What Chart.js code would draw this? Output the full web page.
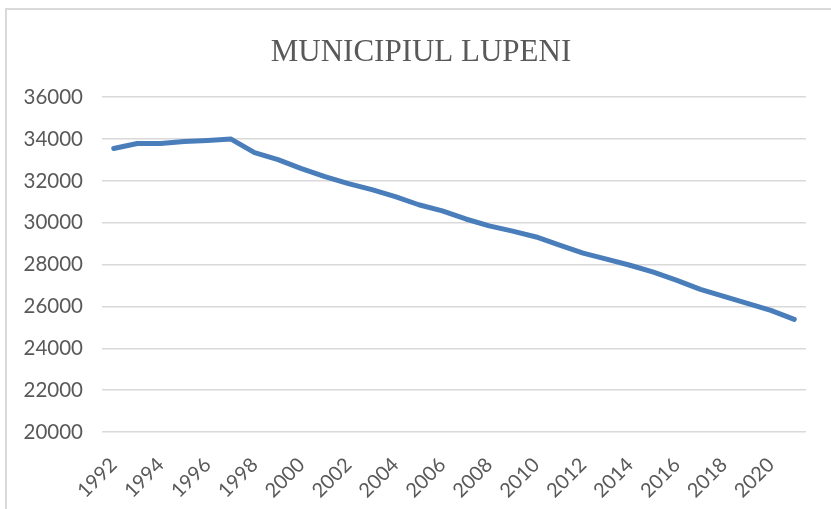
<!DOCTYPE html>
<html>
<head>
<meta charset="utf-8">
<script src="https://cdn.jsdelivr.net/npm/chart.js@4"></script>
<style>
  html, body { margin: 0; padding: 0; background: #fff; overflow: hidden; }
  #wrap { position: relative; width: 831px; height: 509px; }
  #frame { position: absolute; left: 5px; top: 8px; width: 900px; height: 600px;
           border: 2px solid #d9d9d9; pointer-events: none; }
</style>
</head>
<body>
<div id="wrap">
  <canvas id="lupeni" width="831" height="509"></canvas>
  <div id="frame"></div>
</div>
<script>
// populatie Lupeni pe ani
const years = [1992, 1993, 1994, 1995, 1996, 1997, 1998, 1999, 2000, 2001,
  2002, 2003, 2004, 2005, 2006, 2007, 2008, 2009, 2010, 2011,
  2012, 2013, 2014, 2015, 2016, 2017, 2018, 2019, 2020, 2021];
const population = [33550, 33790, 33790, 33880, 33930, 34000, 33350, 33020, 32590, 32200,
  31870, 31580, 31250, 30860, 30570, 30180, 29850, 29600, 29320, 28930,
  28550, 28260, 27970, 27640, 27250, 26820, 26480, 26150, 25810, 25380];
const yTicks = [20000, 22000, 24000, 26000, 28000, 30000, 32000, 34000, 36000];

// mut titlul putin spre dreapta, ca in Excel
const titleShift = {
  id: 'titleShift',
  afterLayout(chart) { if (chart.titleBlock) chart.titleBlock.left += 36; },
};

const ctx = document.getElementById('lupeni').getContext('2d');
const chart = new Chart(ctx, {
  type: 'line',
  data: {
    labels: years.map(String),
    datasets: [{
      label: 'Lupeni',
      data: population,
      borderColor: '#4a7ebb',
      borderWidth: 5,
      borderCapStyle: 'round',
      borderJoinStyle: 'round',
      pointRadius: 0,
      tension: 0,
      fill: false,
    }],
  },
  plugins: [titleShift],
  options: {
    responsive: false,
    animation: false,
    layout: { padding: { left: 0, right: 25, top: 0, bottom: 0 } },
    plugins: {
      legend: { display: false },
      tooltip: { enabled: false },
      title: {
        display: true,
        text: 'MUNICIPIUL LUPENI',
        color: '#595959',
        font: { family: 'Liberation Serif', size: 31, weight: 'normal', lineHeight: 1.2 },
        padding: { top: 34, bottom: 26 },
      },
    },
    scales: {
      x: {
        offset: true,
        grid: { display: false },
        border: { display: false },
        ticks: {
          autoSkip: false,
          minRotation: 45,
          maxRotation: 45,
          color: '#595959',
          font: { family: 'Lato', size: 20 },
          padding: 13,
          callback: function (v, i) { return i % 2 === 0 ? this.getLabelForValue(v) : ''; },
        },
        afterFit: s => { s.height = 77; },
      },
      y: {
        min: 20000,
        max: 36000,
        afterBuildTicks: s => { s.ticks = yTicks.map(v => ({ value: v })); },
        grid: { color: '#d9d9d9', lineWidth: 1.5, drawTicks: false },
        border: { display: false },
        ticks: {
          color: '#595959',
          font: { family: 'Lato', size: 20.5 },
          padding: 19,
          callback: v => String(v),
        },
        afterFit: s => { s.width = 102; },
      },
    },
  },
});
</script>
</body>
</html>
